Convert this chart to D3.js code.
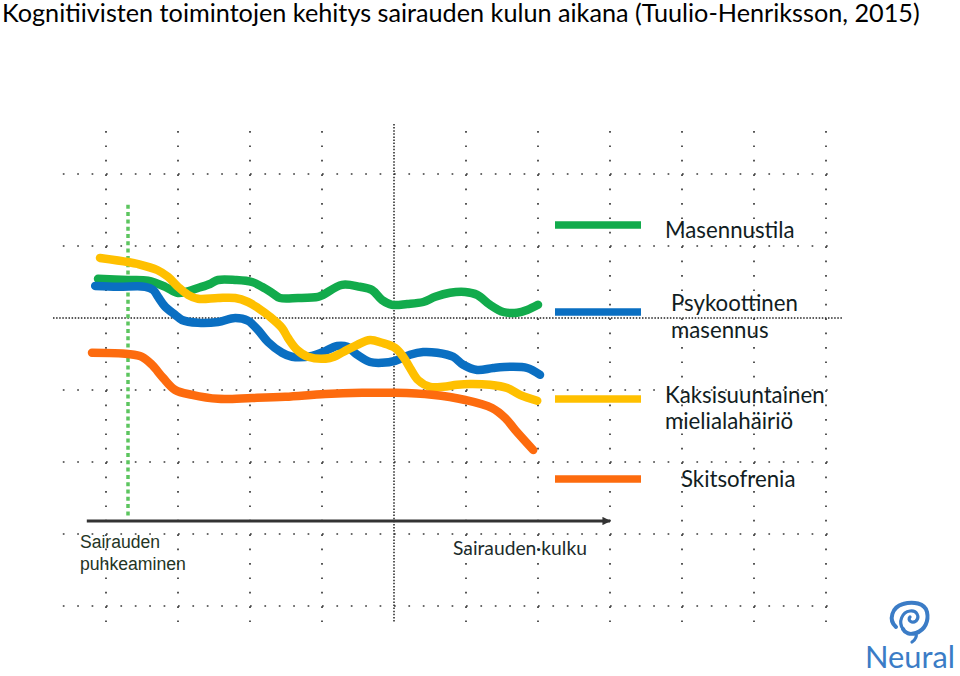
<!DOCTYPE html>
<html>
<head>
<meta charset="utf-8">
<script src="https://cdn.jsdelivr.net/npm/d3@7"></script>
<style>
  html, body { margin: 0; padding: 0; background: #ffffff; }
  svg { display: block; }
</style>
</head>
<body>
<svg id="chart" width="960" height="676"></svg>
<script>
// ---------------- DATA (conceptual units) ----------------
const titleText = "Kognitiivisten toimintojen kehitys sairauden kulun aikana (Tuulio-Henriksson, 2015)";
const seriesNames = ["Masennustila", "Psykoottinen masennus", "Kaksisuuntainen mielialahäiriö", "Skitsofrenia"];
const seriesColors = ["#12ab4c", "#0a6fc2", "#ffc000", "#fd6b0e"];

// x: course of illness (0..112), y: cognitive function level (0..90)
const masennustila = [
  [1.5,60.3],[9,60],[14,59.8],[18.3,58.3],[21.3,56.8],[23.3,57],[26.5,58],[29.5,59],[31.5,60],
  [35.8,60],[40,59.5],[42.5,58.3],[45,56.8],[47,55.5],[51.5,55.5],[56.5,55.8],[57.8,56.3],
  [62.5,58.8],[67,58.3],[70,57.5],[72.5,55],[75,53.8],[78.8,54],[82.8,54.5],[85.8,55.8],
  [89.5,56.8],[93.3,57],[96.3,56.3],[99.5,53.8],[102.8,52],[106.3,51.8],[108.8,52.5],[111.5,53.8]
];
const psykoottinenMasennus = [
  [0.8,58.5],[6.5,58.3],[13.3,58.3],[15.3,57.5],[16.5,55.8],[18.3,53.3],[20.8,51.3],[22.5,50],
  [26.5,49.3],[31.5,49.5],[35.8,50.5],[39,49.8],[41.5,47.5],[44,44.5],[47.5,41.8],[50,40.8],
  [55,41],[57.8,42],[61.3,43.5],[63.8,43.3],[66.3,41.3],[69.5,39.5],[72.5,39.3],[75.8,39.8],
  [79.5,41.3],[82.8,42],[86.3,41.8],[90.3,40.8],[92.8,38.8],[96.3,37.5],[100.3,38],[104.5,38.3],
  [108.8,38],[112,36.3]
];
const kaksisuuntainen = [
  [2,65.5],[9,64.5],[11.5,64],[16.3,62.5],[19,60.8],[21.5,58.3],[24,56.3],[26.5,55.3],[31.5,55.5],
  [35.8,55.5],[39,54.5],[41.5,53],[44.5,50.8],[47.5,48],[49,45.5],[51.3,42.5],[54,40.8],[59.5,40.5],
  [62.8,42],[66.3,43.8],[69.5,45],[72.5,44.3],[75.8,43],[77.8,40.8],[79.5,38],[81.5,35],[84.5,33.3],
  [87.8,33.3],[91.3,33.8],[94.5,34],[99.5,33.8],[103.8,33],[107,31.3],[111.3,29.8]
];
const skitsofrenia = [
  [0,41.8],[9,41.5],[12.5,40.8],[15,38.8],[17.8,35.5],[20.8,32.5],[25,31.3],[31.5,30.3],[40,30.5],
  [48.3,30.8],[58.3,31.5],[67.5,31.8],[75.8,31.8],[85,31.3],[93.3,30],[100,28],[103.3,25.5],
  [105.8,22.5],[110.3,17.5]
];
const seriesData = [masennustila, psykoottinenMasennus, kaksisuuntainen, skitsofrenia];

// background guide grid (same units)
const gridX = [3.5, 21.5, 39.5, 57.5, 93.5, 111.5, 129.5, 147.5, 165.5, 183.5];
const gridY = [86.5, 68.5, 32.5, 14.5, -3.5, -21.5];
const majorGridX = 75.5;
const majorGridY = 50.5;
const onsetX = 9;             // "Sairauden puhkeaminen"
const onsetRange = [0.5, 78.8];
const axisRange = [-1.3, 130];
const axisLabels = ["Sairauden", "puhkeaminen", "Sairauden·kulku"];

// ---------------- SCALES ----------------
const x = d3.scaleLinear().domain([0, 112]).range([92, 540]);
const y = d3.scaleLinear().domain([0, 90]).range([520, 160]);

const svg = d3.select("#chart");

function fittedSize(sel, target) {
  const fs = parseFloat(sel.attr("font-size"));
  const w = sel.node().getComputedTextLength();
  return w > 0 ? fs * target / w : fs;
}
function fitText(sel, target) {
  sel.attr("font-size", fittedSize(sel, target).toFixed(2));
  return sel;
}

// ---------------- TITLE ----------------
fitText(svg.append("text")
  .attr("x", 2).attr("y", 22)
  .attr("font-family", "Lato, 'Open Sans', sans-serif")
  .attr("font-size", 24)
  .attr("fill", "#000")
  .text(titleText), 918);

// ---------------- GRID ----------------
const gridG = svg.append("g");
const gTop = 131, gBot = 622, gLeft = 62.8, gRight = 830;
gridX.forEach(v => {
  gridG.append("line")
    .attr("x1", x(v)).attr("x2", x(v))
    .attr("y1", gTop).attr("y2", gBot)
    .attr("stroke", "#3a3a3a").attr("stroke-width", 1.7)
    .attr("stroke-dasharray", "1.7,12.7");
});
gridY.forEach(v => {
  gridG.append("line")
    .attr("x1", gLeft).attr("x2", gRight)
    .attr("y1", y(v)).attr("y2", y(v))
    .attr("stroke", "#3a3a3a").attr("stroke-width", 1.7)
    .attr("stroke-dasharray", "1.7,12.7");
});
// major dotted guide lines
gridG.append("line")
  .attr("x1", x(majorGridX)).attr("x2", x(majorGridX))
  .attr("y1", 124).attr("y2", 622)
  .attr("stroke", "#222").attr("stroke-width", 1.5)
  .attr("stroke-dasharray", "1.5,1.6");
gridG.append("line")
  .attr("x1", 53).attr("x2", 843)
  .attr("y1", y(majorGridY)).attr("y2", y(majorGridY))
  .attr("stroke", "#222").attr("stroke-width", 1.5)
  .attr("stroke-dasharray", "1.5,1.6");

// ---------------- ONSET MARKER ----------------
svg.append("line")
  .attr("x1", x(onsetX)).attr("x2", x(onsetX))
  .attr("y1", y(onsetRange[1])).attr("y2", y(onsetRange[0]))
  .attr("stroke", "#5cc55f").attr("stroke-width", 3.5)
  .attr("stroke-dasharray", "4,3.3");

// ---------------- X AXIS (arrow) ----------------
svg.append("defs").append("marker")
  .attr("id", "arrow").attr("viewBox", "0 0 10 10")
  .attr("refX", 9).attr("refY", 5)
  .attr("markerWidth", 3.4).attr("markerHeight", 3)
  .attr("orient", "auto")
  .append("path").attr("d", "M0,0L10,5L0,10Z").attr("fill", "#333");
svg.append("line")
  .attr("x1", x(axisRange[0])).attr("x2", x(axisRange[1]) - 2)
  .attr("y1", y(-0.25)).attr("y2", y(-0.25))
  .attr("stroke", "#333").attr("stroke-width", 2.8)
  .attr("marker-end", "url(#arrow)");

fitText(svg.append("text").attr("x", 80).attr("y", 548)
  .attr("font-family", "'Liberation Sans', Arial, sans-serif")
  .attr("font-size", 17).attr("fill", "#243524").text(axisLabels[0]), 80);
fitText(svg.append("text").attr("x", 80).attr("y", 570)
  .attr("font-family", "'Liberation Sans', Arial, sans-serif")
  .attr("font-size", 17).attr("fill", "#243524").text(axisLabels[1]), 106);
fitText(svg.append("text").attr("x", 453).attr("y", 555)
  .attr("font-family", "Lato, sans-serif")
  .attr("font-size", 18).attr("fill", "#1c2b2b").text(axisLabels[2]), 134);

// ---------------- SERIES LINES ----------------
const line = d3.line()
  .x(d => x(d[0])).y(d => y(d[1]))
  .curve(d3.curveCatmullRom.alpha(0.5));

seriesData.forEach((s, i) => {
  svg.append("path")
    .datum(s)
    .attr("d", line)
    .attr("fill", "none")
    .attr("stroke", seriesColors[i])
    .attr("stroke-width", 8.5)
    .attr("stroke-linejoin", "round")
    .attr("stroke-linecap", "round");
});

// ---------------- LEGEND ----------------
const legendY = [225, 312, 399, 479];
const legendLabels = [
  [{t: "Masennustila", x: 665, y: 238, w: 125}],
  [{t: "Psykoottinen", x: 671, y: 311, w: 149}, {t: "masennus", x: 671, y: 338, w: 95}],
  [{t: "Kaksisuuntainen", x: 665, y: 403, w: 153}, {t: "mielialahäiriö", x: 665, y: 429, w: 124}],
  [{t: "Skitsofrenia", x: 681, y: 487, w: 110}]
];
const legendTexts = [];
seriesNames.forEach((n, i) => {
  svg.append("line")
    .attr("x1", 555).attr("x2", 641)
    .attr("y1", legendY[i]).attr("y2", legendY[i])
    .attr("stroke", seriesColors[i]).attr("stroke-width", 7.5);
  legendLabels[i].forEach(l => {
    const t = svg.append("text").attr("x", l.x).attr("y", l.y)
      .attr("font-family", "Lato, sans-serif")
      .attr("font-size", 20).attr("fill", "#111d22").text(l.t);
    legendTexts.push([t, l.w]);
  });
});
// one common size for all legend labels
const legendSize = d3.mean(legendTexts, d => fittedSize(d[0], d[1]));
legendTexts.forEach(d => d[0].attr("font-size", legendSize.toFixed(2)));

// ---------------- LOGO ----------------
const logo = svg.append("g");
const logoColor = "#3b7cc6";
logo.append("path")
  .attr("d", "M896,627 C888,620 892,607 903,604 C913,601 925,603 927,612 C929,621 925,630 916,633 C910,635 905,633 903,629")
  .attr("fill", "none").attr("stroke", logoColor).attr("stroke-width", 4).attr("stroke-linecap", "round");
logo.append("path")
  .attr("d", "M903,629 C898,622 902,612 910,611 C917,610 920,617 916,621 C912,624 907,620 910,617")
  .attr("fill", "none").attr("stroke", logoColor).attr("stroke-width", 3.2).attr("stroke-linecap", "round");
logo.append("path")
  .attr("d", "M916,633 C917,637 915,640 912,642")
  .attr("fill", "none").attr("stroke", logoColor).attr("stroke-width", 3.2).attr("stroke-linecap", "round");
fitText(logo.append("text").attr("x", 865).attr("y", 668)
  .attr("font-family", "Lato, sans-serif")
  .attr("font-size", 32).attr("fill", logoColor).text("Neural"), 90);
</script>
</body>
</html>
